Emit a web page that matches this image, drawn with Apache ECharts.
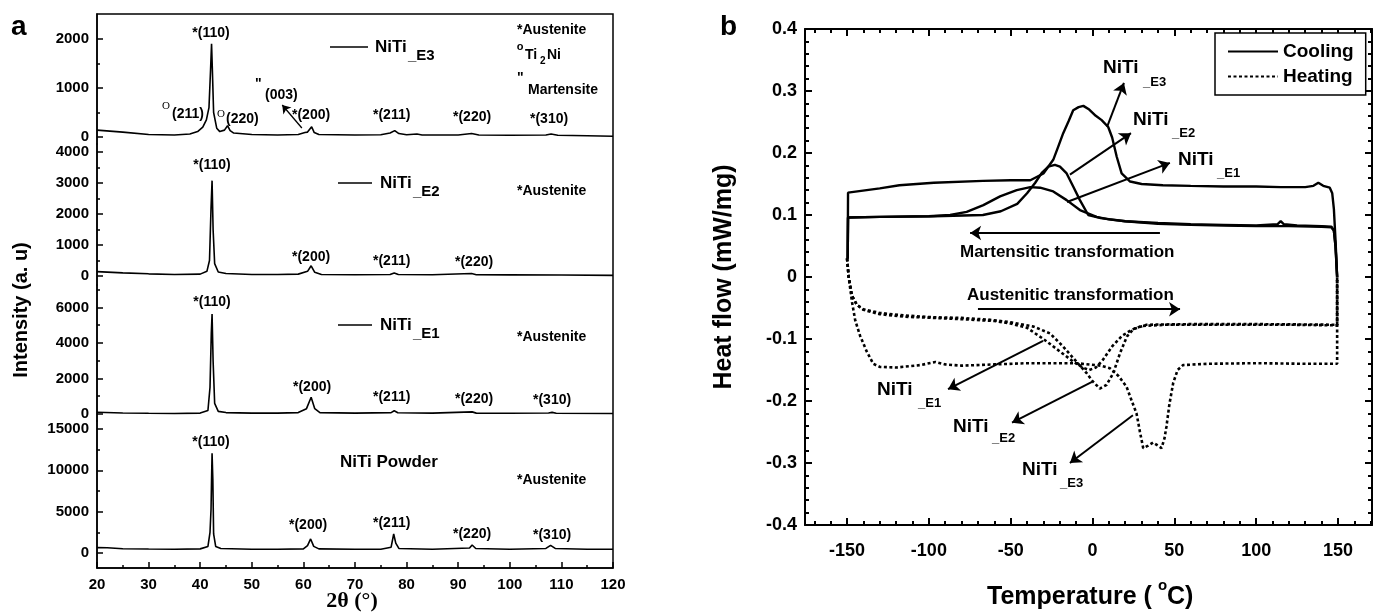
<!DOCTYPE html>
<html>
<head>
<meta charset="utf-8">
<title>XRD and DSC of NiTi</title>
<script src="https://cdn.jsdelivr.net/npm/echarts@6.0.0/dist/echarts.min.js"></script>
<style>
  html, body { margin: 0; padding: 0; background: #fff; }
  #main { width: 1374px; height: 615px; }
</style>
</head>
<body>
<div id="main"></div>
<script>
// ---- panel a : XRD patterns, [2theta, intensity] ----
var xrdE3 = [[20,140],[25,100],[30,50],[35,40],[38,60],[39.5,110],[40.5,200],[41.2,350],[41.7,600],[42.0,1350],[42.2,1900],[42.35,1400],[42.6,500],[43.2,180],[43.8,110],[44.7,140],[45.3,230],[45.8,130],[46.5,80],[50,50],[55,40],[59,50],[60.3,90],[60.8,100],[61.6,210],[62.1,90],[63,50],[70,40],[75,45],[76.8,80],[77.7,130],[78.5,70],[80,45],[82,60],[83,40],[90,40],[92.6,70],[94,40],[100,35],[107,40],[108,60],[109.3,35],[115,25],[120,15]];
var xrdE2 = [[20,140],[25,100],[30,70],[35,50],[40,60],[41.3,150],[41.8,500],[42.1,2200],[42.3,3080],[42.5,1500],[42.8,400],[43.5,130],[45,80],[50,50],[55,50],[59,60],[60.8,150],[61.5,330],[62.2,120],[63.5,50],[70,40],[76.8,50],[77.6,100],[78.4,50],[85,40],[92.6,80],[93.5,40],[100,35],[110,30],[120,20]];
var xrdE1 = [[20,100],[25,60],[30,40],[35,30],[40,50],[41.5,200],[41.9,1500],[42.15,4540],[42.3,5630],[42.5,3000],[42.8,600],[43.5,150],[45,80],[50,50],[55,50],[59,80],[60.6,300],[61.5,940],[62.2,300],[63.2,80],[70,50],[77,80],[77.6,180],[78.3,70],[85,50],[92.7,120],[93.5,50],[100,40],[107.5,60],[108.2,90],[109,40],[120,30]];
var xrdPowder = [[20,650],[22,640],[25,520],[30,480],[35,450],[40,500],[41.5,800],[41.9,2500],[42.1,5300],[42.2,8900],[42.3,12060],[42.45,8900],[42.6,2300],[43,800],[44,550],[50,450],[55,450],[60,500],[60.8,900],[61.4,1700],[62,800],[63,500],[70,450],[75,450],[77,700],[77.5,2300],[77.9,1200],[78.5,550],[85,450],[92.2,600],[92.7,970],[93.4,550],[100,450],[107,550],[107.9,930],[108.8,550],[115,460],[120,450]];

// y ranges and tick labels of the four stacked plots
var xrdRanges = [[-143, 2510], [-291, 4264], [-394, 7263], [-1815, 15972]];
var xrdTicks = [[0,1000,2000], [0,1000,2000,3000,4000], [0,2000,4000,6000], [0,5000,10000,15000]];
var xrdMinor = [[500,1500], [500,1500,2500,3500], [1000,3000,5000,7000], [2500,7500,12500]];

// ---- panel b : DSC, [temperature, heat flow] ----
var coolE3 = [[149.5,0],[148.5,0.06],[147.5,0.11],[146.5,0.135],[145,0.144],[141,0.147],[138,0.152],[135,0.147],[130,0.145],[115,0.145],[100,0.146],[80,0.146],[60,0.147],[43,0.148],[30,0.15],[23,0.154],[17.8,0.167],[14.8,0.194],[12,0.225],[9.6,0.242],[5.6,0.253],[2,0.26],[-2,0.27],[-5.6,0.276],[-8.5,0.274],[-11.8,0.269],[-14.5,0.252],[-17.9,0.232],[-21,0.21],[-24,0.189],[-30,0.167],[-38,0.156],[-50,0.156],[-67,0.155],[-97,0.152],[-118,0.148],[-130,0.143],[-149.4,0.136],[-149.6,0.03]];
var coolE2 = [[149.5,0],[148.5,0.05],[147.5,0.075],[146,0.081],[140,0.082],[125,0.083],[117,0.085],[115,0.09],[113,0.085],[100,0.083],[80,0.084],[60,0.085],[40,0.087],[20,0.09],[5,0.095],[-2.6,0.1],[-7.7,0.124],[-11.8,0.146],[-15.8,0.167],[-19.9,0.178],[-23,0.181],[-27,0.178],[-31,0.168],[-35,0.152],[-40,0.135],[-46,0.118],[-56,0.106],[-67,0.1],[-97,0.098],[-130,0.097],[-149.4,0.096],[-149.6,0.03]];
var coolE1 = [[149.5,0],[148.5,0.05],[147.5,0.075],[146,0.08],[140,0.081],[120,0.082],[100,0.082],[80,0.083],[60,0.084],[40,0.086],[20,0.09],[10,0.093],[2.5,0.097],[-7.7,0.108],[-15.8,0.124],[-24,0.138],[-32,0.144],[-38,0.145],[-46.3,0.14],[-56.5,0.13],[-66.7,0.116],[-76.9,0.105],[-87,0.1],[-100,0.098],[-130,0.097],[-149.4,0.096],[-149.6,0.03]];
var heatE3 = [[-150,0.03],[-149,0.0],[-147,-0.04],[-145,-0.07],[-142,-0.095],[-138,-0.12],[-134,-0.14],[-130,-0.145],[-120,-0.146],[-105,-0.142],[-96,-0.137],[-90,-0.141],[-80,-0.143],[-60,-0.141],[-40,-0.139],[-10,-0.139],[5,-0.143],[10.6,-0.147],[16,-0.16],[20.8,-0.177],[24,-0.2],[26.9,-0.22],[29,-0.25],[31,-0.276],[34,-0.272],[37,-0.267],[40,-0.272],[42.2,-0.276],[44,-0.26],[45.2,-0.241],[47,-0.205],[49.3,-0.171],[52,-0.15],[55.4,-0.142],[70,-0.14],[100,-0.139],[130,-0.14],[149.5,-0.14],[149.5,0]];
var heatE2 = [[-150,0.03],[-149,0.0],[-147,-0.03],[-144,-0.045],[-140,-0.052],[-130,-0.058],[-115,-0.062],[-97,-0.065],[-80,-0.066],[-62.6,-0.069],[-50,-0.073],[-36,-0.08],[-26,-0.091],[-18,-0.112],[-11.7,-0.131],[-3.6,-0.155],[0,-0.168],[4.5,-0.18],[8.6,-0.174],[12.7,-0.155],[16.8,-0.123],[21,-0.096],[25,-0.084],[33,-0.077],[60,-0.076],[100,-0.076],[149.5,-0.077],[149.5,0]];
var heatE1 = [[-150,0.03],[-149,0.0],[-147,-0.03],[-144,-0.045],[-140,-0.053],[-130,-0.06],[-115,-0.064],[-97,-0.066],[-80,-0.068],[-60,-0.071],[-50,-0.075],[-40,-0.082],[-30,-0.1],[-20,-0.12],[-12,-0.136],[-6,-0.146],[-2,-0.15],[2,-0.146],[6,-0.135],[12,-0.112],[18,-0.095],[24,-0.085],[30,-0.079],[45,-0.077],[80,-0.077],[120,-0.077],[149.5,-0.078],[149.5,0]];

var tempTicks = [-150,-100,-50,0,50,100,150];
var tempMinor = [-170,-160,-140,-130,-120,-110,-90,-80,-70,-60,-40,-30,-20,-10,10,20,30,40,60,70,80,90,110,120,130,140,160,170];

var FONT = '"Liberation Sans", Arial, Helvetica, sans-serif';
var chart = echarts.init(document.getElementById('main'));

// grids: 0-3 panel a, 4-7 overlays for minor ticks, 8-9 panel b
var aTops = [14, 144, 285, 421];
var aHeights = [130, 141, 136, 147];
var grids = [], xAxes = [], yAxes = [], series = [];
var i;
for (i = 0; i < 8; i++) {
  grids.push({ left: 97, top: aTops[i % 4], width: 516, height: aHeights[i % 4], outerBoundsMode: 'none' });
}
grids.push({ left: 805, top: 29, width: 567, height: 496, outerBoundsMode: 'none' });
grids.push({ left: 805, top: 29, width: 567, height: 496, outerBoundsMode: 'none' });

var axisLineA = { show: true, onZero: false, lineStyle: { color: '#000', width: 1.5 } };
var labelA = { color: '#000', fontSize: 15, fontWeight: 'bold', fontFamily: FONT };

for (i = 0; i < 8; i++) {
  if (i === 3) {
    xAxes.push({
      type: 'value', gridIndex: 3, min: 20, max: 120, interval: 10,
      axisLine: axisLineA,
      axisTick: { inside: true, length: 6, lineStyle: { color: '#000', width: 1.5 } },
      minorTick: { show: true, splitNumber: 2, length: 3, lineStyle: { color: '#000', width: 1.5 } },
      axisLabel: Object.assign({ margin: 9 }, labelA),
      splitLine: { show: false }
    });
  } else {
    xAxes.push({ type: 'value', gridIndex: i, min: 20, max: 120, show: false, axisLine: { onZero: false } });
  }
}
// major y axes of panel a
for (i = 0; i < 4; i++) {
  yAxes.push({
    type: 'value', gridIndex: i, min: xrdRanges[i][0], max: xrdRanges[i][1],
    axisLine: axisLineA,
    axisTick: { show: true, inside: true, length: 6, customValues: xrdTicks[i], lineStyle: { color: '#000', width: 1.5 } },
    axisLabel: Object.assign({ margin: 8, customValues: xrdTicks[i], formatter: function (v) { return String(v); } }, labelA),
    splitLine: { show: false }
  });
}
// minor y ticks of panel a
for (i = 0; i < 4; i++) {
  yAxes.push({
    type: 'value', gridIndex: i + 4, min: xrdRanges[i][0], max: xrdRanges[i][1],
    axisLine: { show: false, onZero: false },
    axisTick: { show: true, inside: true, length: 3, customValues: xrdMinor[i], lineStyle: { color: '#000', width: 1.5 } },
    axisLabel: { show: false },
    splitLine: { show: false }
  });
}

// panel b axes
var lineB = { show: true, onZero: false, lineStyle: { color: '#000', width: 2 } };
var noLine = { show: false, onZero: false };
var tickB = { lineStyle: { color: '#000', width: 2 } };
var labelB = { color: '#000', fontSize: 18, fontWeight: 'bold', fontFamily: FONT };
xAxes.push({
  type: 'value', gridIndex: 8, min: -175.7, max: 170.8, position: 'bottom',
  axisLine: lineB,
  axisTick: Object.assign({ inside: true, length: 7, customValues: tempTicks }, tickB),
  axisLabel: Object.assign({ margin: 17, customValues: tempTicks, formatter: function (v) { return String(v); } }, labelB),
  splitLine: { show: false }
});
xAxes.push({
  type: 'value', gridIndex: 8, min: -175.7, max: 170.8, position: 'top',
  axisLine: lineB,
  axisTick: Object.assign({ inside: true, length: 7, customValues: tempTicks }, tickB),
  axisLabel: { show: false }, splitLine: { show: false }
});
xAxes.push({
  type: 'value', gridIndex: 9, min: -175.7, max: 170.8, position: 'bottom',
  axisLine: noLine,
  axisTick: Object.assign({ inside: true, length: 4, customValues: tempMinor }, tickB),
  axisLabel: { show: false }, splitLine: { show: false }
});
xAxes.push({
  type: 'value', gridIndex: 9, min: -175.7, max: 170.8, position: 'top',
  axisLine: noLine,
  axisTick: Object.assign({ inside: true, length: 4, customValues: tempMinor }, tickB),
  axisLabel: { show: false }, splitLine: { show: false }
});
yAxes.push({
  type: 'value', gridIndex: 8, min: -0.4, max: 0.4, interval: 0.1, position: 'left',
  axisLine: lineB,
  axisTick: Object.assign({ inside: true, length: 7 }, tickB),
  minorTick: Object.assign({ show: true, splitNumber: 5, length: 4 }, tickB),
  axisLabel: Object.assign({ margin: 8, formatter: function (v) { var s = (+v).toFixed(1); return s === '0.0' || s === '-0.0' ? '0' : s; } }, labelB),
  splitLine: { show: false }, minorSplitLine: { show: false }
});
yAxes.push({
  type: 'value', gridIndex: 8, min: -0.4, max: 0.4, interval: 0.1, position: 'right',
  axisLine: lineB,
  axisTick: Object.assign({ inside: true, length: 7 }, tickB),
  minorTick: Object.assign({ show: true, splitNumber: 5, length: 4 }, tickB),
  axisLabel: { show: false },
  splitLine: { show: false }, minorSplitLine: { show: false }
});
yAxes.push({ type: 'value', gridIndex: 9, min: -0.4, max: 0.4, show: false, axisLine: { onZero: false } });

// XRD curves
var xrdSets = [xrdE3, xrdE2, xrdE1, xrdPowder];
for (i = 0; i < 4; i++) {
  series.push({
    type: 'line', xAxisIndex: i, yAxisIndex: i, data: xrdSets[i],
    symbol: 'none', color: '#000', lineStyle: { color: '#000', width: 1.6 }, z: 3
  });
}
// (003) arrow
series[0].markLine = {
  silent: true, symbol: ['none', 'arrow'], symbolSize: 8,
  label: { show: false },
  lineStyle: { color: '#000', width: 1.3, type: 'solid' },
  data: [[{ coord: [59.7, 184] }, { coord: [55.9, 653] }]]
};

// DSC curves
var coolSets = [coolE1, coolE2, coolE3];
var heatSets = [heatE1, heatE2, heatE3];
for (i = 0; i < 3; i++) {
  series.push({
    name: 'Cooling', type: 'line', xAxisIndex: 8, yAxisIndex: 8, data: coolSets[i],
    symbol: 'none', color: '#000', lineStyle: { color: '#000', width: 2.4 }, z: 3
  });
}
for (i = 0; i < 3; i++) {
  series.push({
    name: 'Heating', type: 'line', xAxisIndex: 8, yAxisIndex: 8, data: heatSets[i],
    symbol: 'none', color: '#000', lineStyle: { color: '#000', width: 2.6, type: [3, 2.5] }, z: 3
  });
}
// arrows of panel b
series[4].markLine = {
  silent: true, symbol: ['none', 'arrow'], symbolSize: 11,
  label: { show: false },
  lineStyle: { color: '#000', width: 2, type: 'solid' },
  data: [
    [{ coord: [8.9, 0.242] }, { coord: [19.2, 0.313] }],
    [{ coord: [-13.8, 0.165] }, { coord: [23.5, 0.232] }],
    [{ coord: [-15.6, 0.121] }, { coord: [47.3, 0.184] }],
    [{ coord: [41.2, 0.071] }, { coord: [-74.8, 0.071] }],
    [{ coord: [-70, -0.052] }, { coord: [53.5, -0.052] }],
    [{ coord: [-30.2, -0.103] }, { coord: [-88.3, -0.181] }],
    [{ coord: [-0.3, -0.169] }, { coord: [-49.2, -0.235] }],
    [{ coord: [24.7, -0.223] }, { coord: [-13.8, -0.3] }]
  ]
};

// text helpers
function txt(x, y, s, size, align, family, rot) {
  var font = 'bold ' + size + 'px ' + (family || FONT);
  var e = {
    type: 'text', x: x, y: y, z: 100, silent: true,
    style: { text: s, fill: '#000', font: font, textAlign: align || 'left', textVerticalAlign: 'middle', align: align || 'left', verticalAlign: 'middle' }
  };
  if (rot) e.rotation = rot;
  return e;
}
function seg(x1, y1, x2, y2, w) {
  return { type: 'line', z: 100, silent: true, shape: { x1: x1, y1: y1, x2: x2, y2: y2 }, style: { stroke: '#000', lineWidth: w || 1.5 } };
}
var SERIF = '"Liberation Serif", "Times New Roman", serif';

var graphics = [
  { type: 'rect', z: 50, silent: true, shape: { x: 97, y: 14, width: 516, height: 554 }, style: { fill: 'none', stroke: '#000', lineWidth: 1.5 } },
  txt(11, 27, 'a', 28),
  txt(720, 27, 'b', 28),
  txt(21, 310, 'Intensity (a. u)', 20, 'center', null, Math.PI / 2),
  txt(352, 601, '2\u03b8 (\u00b0)', 22, 'center', SERIF),

  // panel a, NiTi_E3
  txt(211, 33, '*(110)', 14, 'center'),
  { type: 'text', x: 166, y: 106, z: 100, silent: true, style: { text: 'O', fill: '#000', font: '11px ' + SERIF, textAlign: 'center', textVerticalAlign: 'middle', align: 'center', verticalAlign: 'middle' } },
  txt(172, 114, '(211)', 14),
  { type: 'text', x: 221, y: 114, z: 100, silent: true, style: { text: 'O', fill: '#000', font: '11px ' + SERIF, textAlign: 'center', textVerticalAlign: 'middle', align: 'center', verticalAlign: 'middle' } },
  txt(226, 119, '(220)', 14),
  txt(255, 84, '"', 14),
  txt(265, 95, '(003)', 14),
  txt(292, 115, '*(200)', 14),
  txt(373, 115, '*(211)', 14),
  txt(453, 117, '*(220)', 14),
  txt(530, 119, '*(310)', 14),
  seg(330, 47, 368, 47),
  txt(375, 47, 'NiTi', 17),
  txt(408, 56, '_E3', 15),
  txt(517, 30, '*Austenite', 14),
  { type: 'text', x: 520, y: 47, z: 100, silent: true, style: { text: 'o', fill: '#000', font: 'bold 11px ' + FONT, textAlign: 'center', textVerticalAlign: 'middle', align: 'center', verticalAlign: 'middle' } },
  txt(525, 55, 'Ti', 14),
  txt(540, 61, '2', 10),
  txt(547, 55, 'Ni', 14),
  txt(517, 78, '"', 14),
  txt(528, 90, 'Martensite', 14),

  // NiTi_E2
  txt(212, 165, '*(110)', 14, 'center'),
  seg(338, 183, 372, 183),
  txt(380, 183, 'NiTi', 17),
  txt(413, 192, '_E2', 15),
  txt(517, 191, '*Austenite', 14),
  txt(292, 257, '*(200)', 14),
  txt(373, 261, '*(211)', 14),
  txt(455, 262, '*(220)', 14),

  // NiTi_E1
  txt(212, 302, '*(110)', 14, 'center'),
  seg(338, 325, 372, 325),
  txt(380, 325, 'NiTi', 17),
  txt(413, 334, '_E1', 15),
  txt(517, 337, '*Austenite', 14),
  txt(293, 387, '*(200)', 14),
  txt(373, 397, '*(211)', 14),
  txt(455, 399, '*(220)', 14),
  txt(533, 400, '*(310)', 14),

  // powder
  txt(211, 442, '*(110)', 14, 'center'),
  txt(340, 462, 'NiTi Powder', 17),
  txt(517, 480, '*Austenite', 14),
  txt(289, 525, '*(200)', 14),
  txt(373, 523, '*(211)', 14),
  txt(453, 534, '*(220)', 14),
  txt(533, 535, '*(310)', 14),

  // panel b
  txt(724, 277, 'Heat flow (mW/mg)', 25, 'center', null, Math.PI / 2),
  txt(987, 597, 'Temperature (', 25),
  txt(1158, 586, 'o', 15),
  txt(1167, 597, 'C)', 25),
  txt(1103, 68, 'NiTi', 19),
  txt(1143, 82, '_E3', 13),
  txt(1133, 120, 'NiTi', 19),
  txt(1172, 133, '_E2', 13),
  txt(1178, 160, 'NiTi', 19),
  txt(1217, 173, '_E1', 13),
  txt(960, 252, 'Martensitic transformation', 17),
  txt(967, 295, 'Austenitic transformation', 17),
  txt(877, 390, 'NiTi', 19),
  txt(918, 403, '_E1', 13),
  txt(953, 427, 'NiTi', 19),
  txt(992, 438, '_E2', 13),
  txt(1022, 470, 'NiTi', 19),
  txt(1060, 483, '_E3', 13)
];

chart.setOption({
  animation: false,
  backgroundColor: '#fff',
  grid: grids,
  xAxis: xAxes,
  yAxis: yAxes,
  legend: {
    data: ['Cooling', 'Heating'],
    orient: 'vertical', left: 1215, top: 33,
    itemWidth: 50, itemHeight: 14, itemGap: 6,
    padding: [9, 12, 9, 12],
    borderColor: '#000', borderWidth: 1.5, borderRadius: 0,
    backgroundColor: '#fff',
    selectedMode: false,
    itemStyle: { opacity: 0 },
    textStyle: { color: '#000', fontSize: 19, fontWeight: 'bold', fontFamily: FONT }
  },
  series: series,
  graphic: graphics
});
</script>
</body>
</html>
